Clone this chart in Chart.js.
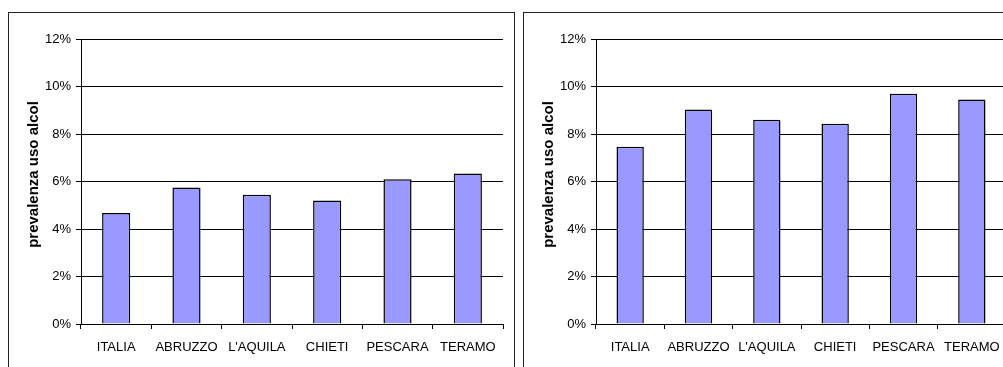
<!DOCTYPE html>
<html>
<head>
<meta charset="utf-8">
<script src="https://cdn.jsdelivr.net/npm/chart.js@4.4.1/dist/chart.umd.min.js"></script>
<style>
  html, body { margin: 0; padding: 0; background: #fff; overflow: hidden; width: 1003px; height: 367px; }
  .panel { position: absolute; border: 1px solid #222; box-sizing: border-box; background: #fff; overflow: hidden; }
  #p1 { left: 8px; top: 12px; width: 507px; height: 370px; }
  #p2 { left: 523px; top: 12px; width: 500px; height: 370px; }
  canvas { position: absolute; left: 0; top: 0; }
</style>
</head>
<body>
<div class="panel" id="p1"><canvas id="c1" width="505" height="354"></canvas></div>
<div class="panel" id="p2"><canvas id="c2" width="488" height="354"></canvas></div>
<script>
// Areas of the region, shown in both panels
const categories = ['ITALIA', 'ABRUZZO', "L'AQUILA", 'CHIETI', 'PESCARA', 'TERAMO'];
// Prevalence of alcohol use (%), left panel
const prevalenceLeft = [4.67, 5.75, 5.44, 5.20, 6.10, 6.34];
// Prevalence of alcohol use (%), right panel
const prevalenceRight = [7.46, 9.03, 8.60, 8.43, 9.69, 9.45];
// Value-axis ticks
const yTicks = [0, 2, 4, 6, 8, 10, 12];
const yTitle = 'prevalenza uso alcol';

const FONT = '"Liberation Sans", Arial, sans-serif';
Chart.defaults.font.family = FONT;
Chart.defaults.color = '#000';

// Rotated value-axis title, set a little above the middle of the plot
const axisTitle = {
  id: 'axisTitle',
  afterDraw(chart) {
    const { ctx, chartArea } = chart;
    ctx.save();
    ctx.translate(25, (chartArea.top + chartArea.bottom) / 2 - 7);
    ctx.rotate(-Math.PI / 2);
    ctx.font = 'bold 15px ' + FONT;
    ctx.fillStyle = '#000';
    ctx.textAlign = 'center';
    ctx.textBaseline = 'middle';
    ctx.fillText(yTitle, 0, 0);
    ctx.restore();
  }
};

function makeChart(id, values, rightPad) {
  return new Chart(document.getElementById(id), {
    type: 'bar',
    data: {
      labels: categories,
      datasets: [{
        data: values,
        backgroundColor: '#9999FF',
        borderColor: '#000',
        borderWidth: 1.5,
        categoryPercentage: 1,
        barPercentage: 0.4
      }]
    },
    plugins: [axisTitle],
    options: {
      responsive: false,
      animation: false,
      devicePixelRatio: 1,
      layout: { padding: { top: 26, right: rightPad, bottom: 0, left: 0 } },
      plugins: { legend: { display: false }, tooltip: { enabled: false } },
      scales: {
        x: {
          afterFit: s => { s.height = 43; },
          grid: { offset: true, drawOnChartArea: false, drawTicks: true, tickLength: 5, color: '#000', lineWidth: 1 },
          border: { display: true, color: '#000', width: 1 },
          ticks: { font: { size: 13 }, padding: 11, maxRotation: 0, autoSkip: false, color: '#000' }
        },
        y: {
          min: yTicks[0],
          max: yTicks[yTicks.length - 1],
          afterFit: s => { s.width = 72; },
          afterBuildTicks: s => { s.ticks = yTicks.map(v => ({ value: v })); },
          grid: { color: '#000', lineWidth: 1, drawTicks: true, tickLength: 5 },
          border: { display: true, color: '#000', width: 1 },
          ticks: { font: { size: 13 }, padding: 5, color: '#000', callback: v => v + '%' }
        }
      }
    }
  });
}

makeChart('c1', prevalenceLeft, 11);
makeChart('c2', prevalenceRight, 6);
</script>
</body>
</html>
